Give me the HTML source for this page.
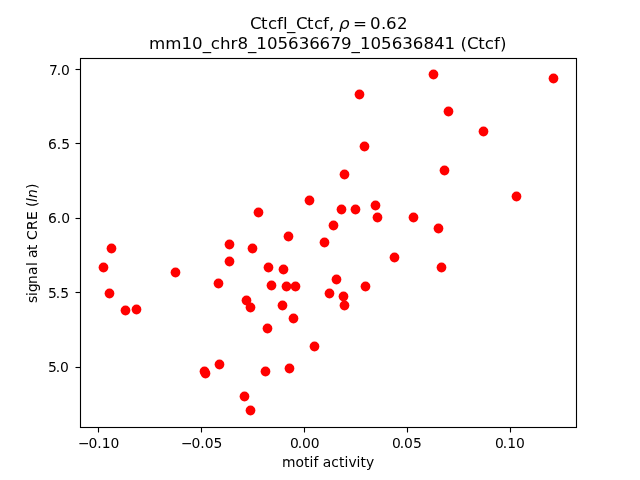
<!DOCTYPE html>
<html lang="en">
<head>
<meta charset="utf-8">
<title>Ctcfl_Ctcf scatter</title>
<style>
html,body{margin:0;padding:0;background:#fff;}
body{width:640px;height:480px;overflow:hidden;}
svg{display:block;}
text{font-family:"DejaVu Sans","Liberation Sans",sans-serif;fill:#000;white-space:pre;}
.t10{font-size:13.889px;}
.t12{font-size:16.667px;}
.it{font-style:oblique;}
.ax{stroke:#000;stroke-width:1.111;fill:none;}
.pt{fill:#f00;}
</style>
</head>
<body>
<svg width="640" height="480" viewBox="0 0 640 480">
<rect x="0" y="0" width="640" height="480" fill="#fff"/>
<g class="pt">
<circle cx="111.5" cy="248.5" r="4.88"/>
<circle cx="103.5" cy="267.5" r="4.88"/>
<circle cx="109.5" cy="293.5" r="4.88"/>
<circle cx="125.5" cy="310.5" r="4.88"/>
<circle cx="136.5" cy="309.5" r="4.88"/>
<circle cx="175.5" cy="272.5" r="4.88"/>
<circle cx="218.5" cy="283.5" r="4.88"/>
<circle cx="229.5" cy="244.5" r="4.88"/>
<circle cx="229.5" cy="261.5" r="4.88"/>
<circle cx="258.5" cy="212.5" r="4.88"/>
<circle cx="309.5" cy="200.5" r="4.88"/>
<circle cx="341.5" cy="209.5" r="4.88"/>
<circle cx="355.5" cy="209.5" r="4.88"/>
<circle cx="375.5" cy="205.5" r="4.88"/>
<circle cx="377.5" cy="217.5" r="4.88"/>
<circle cx="333.5" cy="225.5" r="4.88"/>
<circle cx="288.5" cy="236.5" r="4.88"/>
<circle cx="324.5" cy="242.5" r="4.88"/>
<circle cx="252.5" cy="248.5" r="4.88"/>
<circle cx="268.5" cy="267.5" r="4.88"/>
<circle cx="283.5" cy="269.5" r="4.88"/>
<circle cx="271.5" cy="285.5" r="4.88"/>
<circle cx="286.5" cy="286.5" r="4.88"/>
<circle cx="295.5" cy="286.5" r="4.88"/>
<circle cx="336.5" cy="279.5" r="4.88"/>
<circle cx="365.5" cy="286.5" r="4.88"/>
<circle cx="329.5" cy="293.5" r="4.88"/>
<circle cx="343.5" cy="296.5" r="4.88"/>
<circle cx="344.5" cy="305.5" r="4.88"/>
<circle cx="246.5" cy="300.5" r="4.88"/>
<circle cx="250.5" cy="307.5" r="4.88"/>
<circle cx="282.5" cy="305.5" r="4.88"/>
<circle cx="293.5" cy="318.5" r="4.88"/>
<circle cx="267.5" cy="328.5" r="4.88"/>
<circle cx="314.5" cy="346.5" r="4.88"/>
<circle cx="219.5" cy="364.5" r="4.88"/>
<circle cx="204.5" cy="371.5" r="4.88"/>
<circle cx="205.5" cy="373.5" r="4.88"/>
<circle cx="265.5" cy="371.5" r="4.88"/>
<circle cx="289.5" cy="368.5" r="4.88"/>
<circle cx="244.5" cy="396.5" r="4.88"/>
<circle cx="250.5" cy="410.5" r="4.88"/>
<circle cx="433.5" cy="74.5" r="4.88"/>
<circle cx="359.5" cy="94.5" r="4.88"/>
<circle cx="448.5" cy="111.5" r="4.88"/>
<circle cx="364.5" cy="146.5" r="4.88"/>
<circle cx="344.5" cy="174.5" r="4.88"/>
<circle cx="444.5" cy="170.5" r="4.88"/>
<circle cx="413.5" cy="217.5" r="4.88"/>
<circle cx="438.5" cy="228.5" r="4.88"/>
<circle cx="394.5" cy="257.5" r="4.88"/>
<circle cx="441.5" cy="267.5" r="4.88"/>
<circle cx="553.5" cy="78.5" r="4.88"/>
<circle cx="483.5" cy="131.5" r="4.88"/>
<circle cx="516.5" cy="196.5" r="4.88"/>
</g>
<g class="ax">
<rect x="80.5" y="58.5" width="496" height="369"/>
<path d="M98.5 428V432.5"/>
<path d="M201.5 428V432.5"/>
<path d="M304.5 428V432.5"/>
<path d="M407.5 428V432.5"/>
<path d="M510.5 428V432.5"/>
<path d="M80 69.5H75.5"/>
<path d="M80 143.5H75.5"/>
<path d="M80 218.5H75.5"/>
<path d="M80 292.5H75.5"/>
<path d="M80 367.5H75.5"/>
</g>
<g class="t10">
<text transform="matrix(1 0 0 1.001 0 -0.4485)" x="78 88.625 97.375 101.75 110.625" y="448.475">−0.10</text>
<text transform="matrix(1 0 0 1.001 0 -0.4485)" x="181 191.625 200.375 204.75 213.5" y="448.475">−0.05</text>
<text transform="matrix(1 0 0 1.001 0 -0.4485)" x="290 297.75 302.125 310.875" y="448.475">0.00</text>
<text transform="matrix(1 0 0 1.001 0 -0.4485)" x="392 399.75 404.125 413.125" y="448.475">0.05</text>
<text transform="matrix(1 0 0 1.001 0 -0.4485)" x="495.125 502.875 507.25 516.125" y="448.475">0.10</text>
<text transform="matrix(1 0 0 1.001 0 -0.4675)" x="282.125 295.625 304.125 309.625 313.5 318.5 322.875 331.25 339.125 344.625 348.5 356.5 360.625 366.125" y="467.47">motif activity</text>
<text transform="matrix(1 0 0 1.001 0 -0.0753)" x="49 56.75 61.125" y="75.3">7.0</text>
<text transform="matrix(1 0 0 1.001 0 -0.1488)" x="48 56.875 61.25" y="148.8">6.5</text>
<text transform="matrix(1 0 0 1.001 0 -0.2233)" x="48 56.875 61.25" y="223.3">6.0</text>
<text transform="matrix(1 0 0 1.001 0 -0.2978)" x="48 55.75 60.375" y="297.8">5.5</text>
<text transform="matrix(1 0 0 1.001 0 -0.3723)" x="48 55.75 60.125" y="372.3">5.0</text>
<text transform="translate(37.15 303.9) rotate(-90) scale(1 1.001)" x="1 8 12 20 29 38 42 46 54 60 64 74 84 92 97" y="0">signal at CRE (<tspan class="it" x="102 106">ln</tspan><tspan x="115">)</tspan></text>
</g>
<g class="t12">
<text transform="matrix(1 0 0 1 0 0)" x="249.9 260.9 267.9 276.9 282.9 286.9 295.9 306.9 313.9 322.9 328.9 333.9" y="29">Ctcfl_Ctcf, <tspan class="it" x="338.9">ρ</tspan><tspan x="346.9 352.9 363.9 369.9 380.9 385.9 396.9"> = 0.62</tspan></text>
<text transform="matrix(1 0 0 1 0 0)" x="149.1 165.288 181.476 192.061 202.646 210.739 220.079 230.539 237.388 247.973 256.316 266.901 277.485 288.07 298.655 309.239 319.574 330.408 340.993 351.578 359.921 370.505 381.09 391.675 402.259 412.844 423.429 434.013 444.598 455.182 460.413 466.888 478.219 484.694 494.034 499.887" y="49">mm10_chr8_105636679_105636841 (Ctcf)</text>
</g>
</svg>
</body>
</html>
